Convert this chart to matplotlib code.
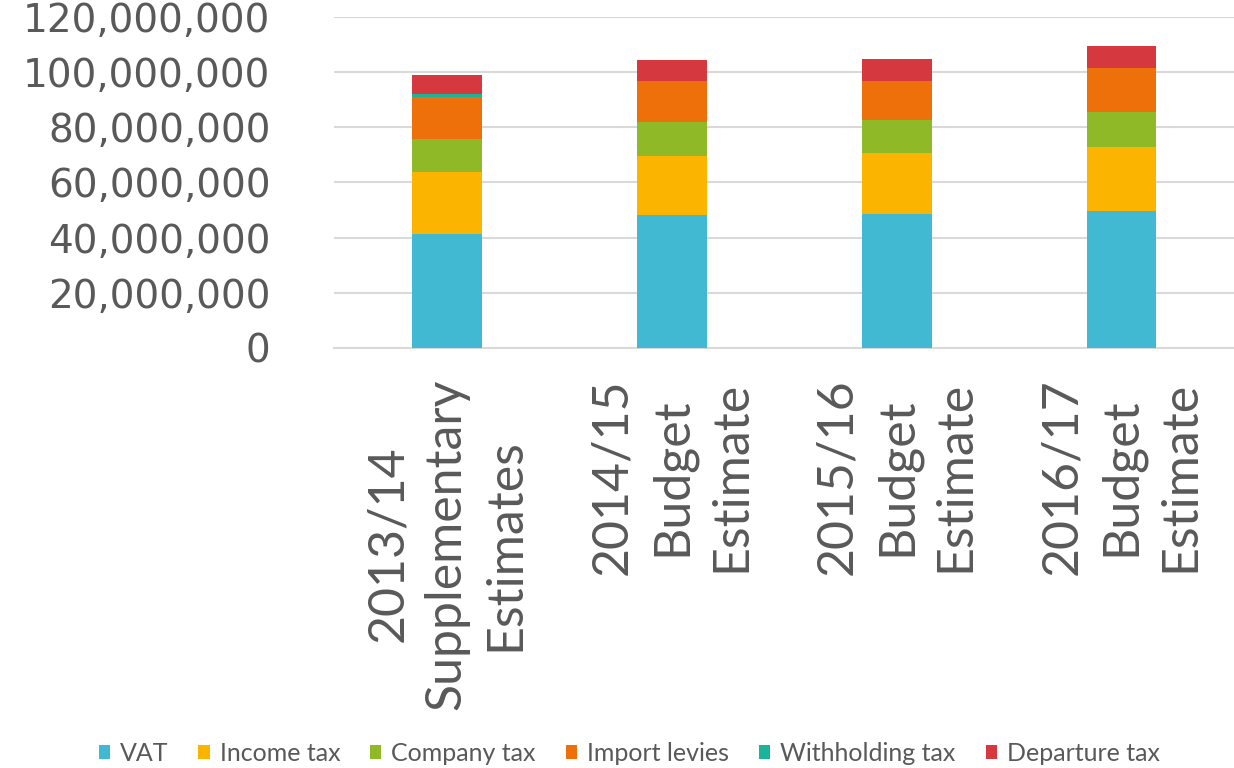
import numpy as np
import matplotlib
matplotlib.use('Agg')
import matplotlib.pyplot as plt

plt.rcParams['font.family'] = ['Lato', 'DejaVu Sans']

# 数据
categories = ['2013/14\nSupplementary\nEstimates', '2014/15\nBudget\nEstimate',
              '2015/16\nBudget\nEstimate', '2016/17\nBudget\nEstimate']
vat = [41.3e6, 48.2e6, 48.5e6, 49.8e6]
income_tax = [22.5e6, 21.3e6, 22.0e6, 23.0e6]
company_tax = [12.1e6, 12.3e6, 12.2e6, 12.7e6]
import_levies = [15.2e6, 15.1e6, 14.2e6, 15.8e6]
withholding_tax = [0.9e6, 0, 0, 0]
departure_tax = [6.8e6, 7.3e6, 7.7e6, 8.0e6]

series = [('VAT', vat, '#41b9d3'),
          ('Income tax', income_tax, '#fbb400'),
          ('Company tax', company_tax, '#8fb926'),
          ('Import levies', import_levies, '#ee700b'),
          ('Withholding tax', withholding_tax, '#1bb49b'),
          ('Departure tax', departure_tax, '#d5393f')]

text_col = '#595959'

fig = plt.figure(figsize=(12.34, 7.68), dpi=100)
ax = fig.add_axes([0.271, 0.547, 0.729, 0.431])

x = np.arange(len(categories))
bottom = np.zeros(len(categories))
for name, vals, col in series:
    ax.bar(x, vals, 0.31, bottom=bottom, color=col, label=name, zorder=3)
    bottom += np.array(vals)

ax.set_ylim(0, 120e6)
ax.set_xlim(-0.5, 3.5)
ax.set_yticks(np.arange(0, 120e6 + 1, 20e6))
ax.yaxis.set_major_formatter(matplotlib.ticker.FuncFormatter(lambda v, p: f'{v:,.0f}'))
ax.grid(axis='y', color='#d9d9d9', linewidth=1.5, zorder=0)
for s in ['top', 'right', 'left']:
    ax.spines[s].set_visible(False)
ax.spines['bottom'].set_color('#d9d9d9')
ax.spines['bottom'].set_linewidth(1.5)
ax.tick_params(axis='y', length=0, pad=46, labelcolor=text_col)
for t in ax.get_yticklabels():
    t.set_fontfamily('DejaVu Sans')
    t.set_fontsize(28)
ax.tick_params(axis='x', length=0, pad=22)
ax.set_xticks(x)
ax.set_xticklabels(categories, rotation=90, fontsize=36, color=text_col,
                   va='top', ha='center', multialignment='center',
                   linespacing=1.35)

handles, labels = ax.get_legend_handles_labels()
fig.legend(handles, labels, loc='center', bbox_to_anchor=(0.51, 0.019), ncol=6,
           frameon=False, fontsize=18, labelcolor=text_col, handlelength=0.45,
           handleheight=0.45, handletextpad=0.4, columnspacing=1.2)

fig.savefig('out.png', dpi=100)
